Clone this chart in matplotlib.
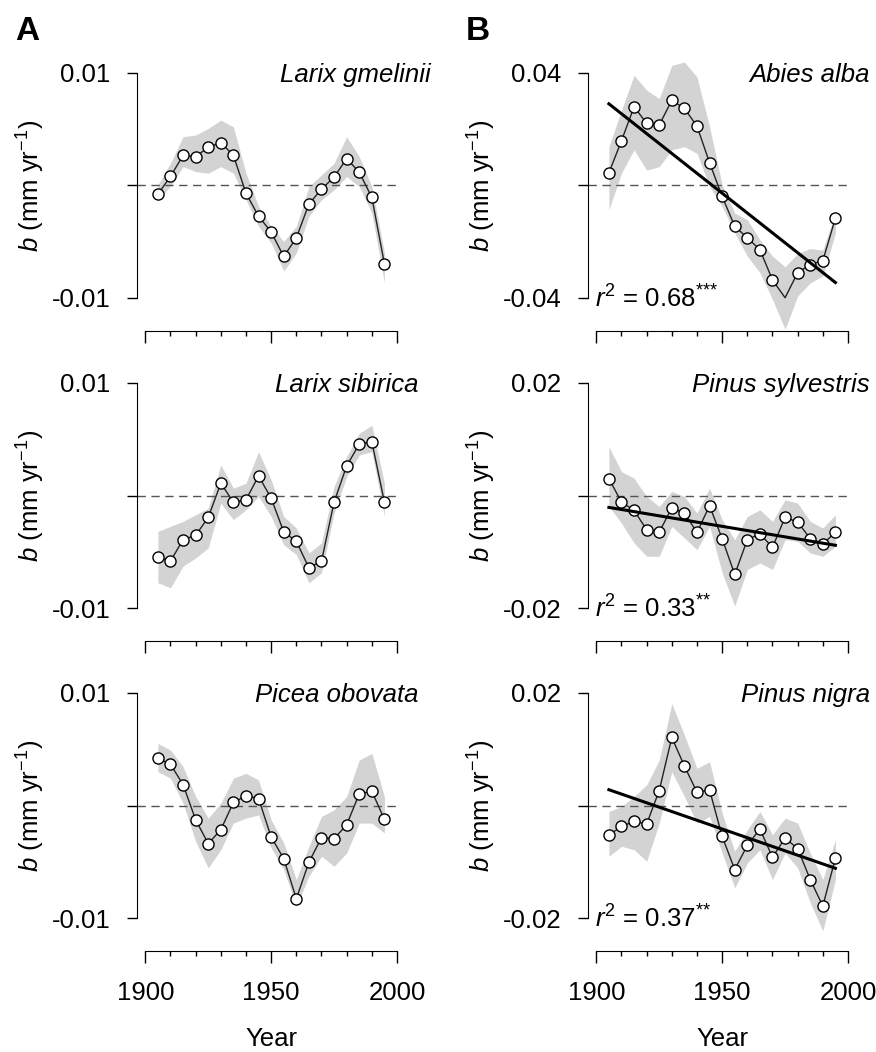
import matplotlib
matplotlib.use('Agg')
import matplotlib.pyplot as plt
import matplotlib.transforms as mtransforms
import numpy as np

plt.rcParams['font.family'] = ['Liberation Sans', 'DejaVu Sans']
plt.rcParams['mathtext.fontset'] = 'custom'
plt.rcParams['mathtext.rm'] = 'Liberation Sans'
plt.rcParams['mathtext.it'] = 'Liberation Sans:italic'
plt.rcParams['mathtext.bf'] = 'Liberation Sans:bold'

# growth trend b, in units of 0.001 mm/yr, per 5-year step
years = [1905, 1910, 1915, 1920, 1925, 1930, 1935, 1940, 1945, 1950,
         1955, 1960, 1965, 1970, 1975, 1980, 1985, 1990, 1995]

gmelinii_b = [-0.77, 0.80, 2.68, 2.57, 3.39, 3.81, 2.68, -0.68, -2.74, -4.13,
              -6.31, -4.66, -1.65, -0.32, 0.74, 2.39, 1.18, -1.06, -6.96]
gmelinii_hi = [0.06, 1.98, 4.34, 4.48, 5.07, 5.81, 5.22, 1.09, -1.86, -3.63,
               -4.96, -3.63, -0.09, 0.94, 1.98, 4.34, 2.57, -0.09, -5.99]
gmelinii_lo = [-1.27, -0.09, 1.68, 1.24, 1.09, 1.68, 1.09, -1.27, -3.63, -5.10,
               -7.61, -5.99, -2.74, -1.27, -0.38, 0.80, -0.09, -2.45, -8.64]

sibirica_b = [-5.46, -5.84, -3.92, -3.54, -1.95, 1.09, -0.59, -0.38, 1.74, -0.24,
              -3.24, -4.07, -6.43, -5.84, -0.59, 2.63, 4.57, 4.78, -0.59]
sibirica_hi = [-3.19, -2.74, -2.30, -1.71, -1.12, 2.71, 0.65, 1.09, 3.89, 1.39,
               -1.86, -2.89, -5.10, -4.22, 0.80, 3.45, 5.52, 6.25, 1.09]
sibirica_lo = [-7.76, -8.20, -6.28, -5.55, -4.66, -0.68, -2.15, -1.27, -0.09, -1.86,
               -4.37, -5.25, -7.76, -6.87, -1.56, 1.68, 3.60, 3.89, -1.86]

obovata_b = [4.19, 3.66, 1.86, -1.27, -3.39, -2.15, 0.27, 0.86, 0.62, -2.80,
             -4.72, -8.29, -5.04, -2.86, -2.95, -1.71, 1.03, 1.27, -1.24]
obovata_hi = [5.52, 4.93, 3.45, 0.80, -1.12, 0.21, 2.42, 2.86, 2.27, -1.27,
              -3.33, -6.58, -3.63, -0.97, -0.38, 0.80, 4.04, 4.63, 0.80]
obovata_lo = [3.01, 2.42, 0.21, -3.19, -5.55, -3.92, -1.56, -1.12, -0.83, -3.78,
              -5.69, -8.94, -6.28, -4.51, -5.40, -4.22, -1.56, -1.56, -2.45]

alba_b = [4.48, 15.9, 28.0, 22.1, 21.5, 30.3, 27.4, 21.1, 8.1, -3.9,
          -14.5, -18.6, -22.8, -33.6, -39.9, -31.0, -28.1, -26.7, -11.6]
alba_hi = [13.8, 26.8, 39.2, 33.9, 30.9, 42.7, 43.9, 38.6, 20.9, 0.2,
           -9.8, -12.2, -19.3, -25.1, -28.9, -24.2, -22.4, -23.0, -9.8]
alba_lo = [-8.6, 4.4, 12.7, 5.5, 6.7, 12.7, 13.8, 11.4, -0.4, -7.4,
           -16.9, -25.1, -31.0, -40.5, -51.1, -39.3, -34.6, -32.2, -16.9]

sylvestris_b = [3.01, -1.18, -2.65, -6.08, -6.49, -2.24, -3.13, -6.55, -1.83, -7.67,
                -14.04, -7.85, -6.84, -9.20, -3.89, -4.72, -7.67, -8.61, -6.55]
sylvestris_hi = [8.67, 4.25, 3.07, -0.18, -1.95, 0.71, -0.18, -3.13, 1.30, -4.31,
                 -7.85, -3.72, -2.54, -4.60, -0.77, -1.36, -4.60, -5.78, -3.42]
sylvestris_lo = [-1.95, -4.90, -8.44, -10.80, -10.80, -5.49, -7.55, -9.62, -5.49, -13.75,
                 -19.65, -13.16, -11.98, -13.16, -7.85, -8.14, -10.21, -10.80, -9.03]

nigra_b = [-5.25, -3.72, -2.83, -3.30, 2.65, 12.09, 7.02, 2.36, 2.77, -5.49,
           -11.39, -7.08, -4.19, -9.20, -5.78, -7.67, -13.16, -17.88, -9.32]
nigra_hi = [-1.06, -0.18, 1.59, 3.66, 8.08, 18.11, 12.51, 6.61, 7.79, -1.36,
            -8.14, -4.31, -1.06, -5.19, -2.24, -3.13, -8.44, -13.16, -6.08]
nigra_lo = [-9.03, -7.26, -7.85, -9.91, -3.13, 6.02, 1.59, -3.13, -1.95, -8.44,
            -14.63, -10.21, -7.85, -13.16, -8.44, -11.09, -17.29, -22.30, -13.16]

panels = [
    # (column, row, name, b, lo, hi, axis limit, r2 label, years without marker)
    (0, 0, 'Larix gmelinii', gmelinii_b, gmelinii_lo, gmelinii_hi, 0.01, None, []),
    (0, 1, 'Larix sibirica', sibirica_b, sibirica_lo, sibirica_hi, 0.01, None, []),
    (0, 2, 'Picea obovata', obovata_b, obovata_lo, obovata_hi, 0.01, None, []),
    (1, 0, 'Abies alba', alba_b, alba_lo, alba_hi, 0.04, '0.68', [1975]),
    (1, 1, 'Pinus sylvestris', sylvestris_b, sylvestris_lo, sylvestris_hi, 0.02, '0.33', []),
    (1, 2, 'Pinus nigra', nigra_b, nigra_lo, nigra_hi, 0.02, '0.37', []),
]
r2_stars = {'0.68': '***', '0.33': '**', '0.37': '**'}
name_x = {'Larix gmelinii': 2013.5}

W, H = 876, 1052
fig = plt.figure(figsize=(W / 100, H / 100), dpi=100)

fs = 18.5
x = np.array(years)

for col, row, name, b, lo, hi, lim, r2, hide in panels:
    left = [137, 588][col]
    bottom = H - 331 - 310 * row
    ax = fig.add_axes([left / W, bottom / H, 260 / W, 271 / H])
    ax.set_xlim(1896.7, 1999.3)
    ax.set_ylim(-lim * (1 + 33 / 112.5), lim * (1 + 13 / 112.5))

    b = np.array(b) * 1e-3
    ax.fill_between(x, np.array(lo) * 1e-3, np.array(hi) * 1e-3,
                    color='#d3d3d3', lw=0, zorder=1)
    ax.axhline(0, color='#555555', lw=1, dashes=(6, 4), zorder=2)
    ax.plot(x, b, color='#222222', lw=1, zorder=3)
    show = np.array([yr not in hide for yr in years])
    ax.plot(x[show], b[show], 'o', ms=8, mfc='white', mec='black', mew=1, zorder=4)

    if r2 is not None:
        coef = np.polyfit(x, b, 1)
        ends = np.array([years[0], years[-1]])
        ax.plot(ends, np.polyval(coef, ends), color='black', lw=2.2, zorder=5)
        ax.text(1899.3, -lim * (1 + 9.5 / 112.5),
                r'$\mathit{r}^{2}$ = ' + r2 + r'$^{\text{' + r2_stars[r2] + '}}$',
                ha='left', va='baseline', fontsize=fs)

    ax.text(name_x.get(name, 2008.6), lim * (1 - 9 / 112.5), name,
            ha='right', va='baseline', style='italic', fontsize=fs)

    for s in ['top', 'right']:
        ax.spines[s].set_visible(False)
    ax.spines['left'].set_bounds(-lim, lim)
    ax.spines['bottom'].set_bounds(1900, 2000)

    ax.set_yticks([-lim, 0, lim])
    ax.set_yticklabels(['%g' % -lim, '', '%g' % lim])
    ax.tick_params(axis='y', length=7, width=1, pad=12, labelsize=fs)

    ax.set_xticks([1900, 1950, 2000])
    ax.set_xticks([1910, 1920, 1930, 1940, 1960, 1970, 1980, 1990], minor=True)
    ax.tick_params(axis='x', which='major', length=8.3, width=1, pad=13,
                   labelsize=fs, labelbottom=(row == 2))
    ax.tick_params(axis='x', which='minor', length=3.8, width=1)

    ax.text(-0.408, (lim * (1 + 33 / 112.5)) / (lim * (2 + 46 / 112.5)),
            r'$\mathit{b}$ (mm yr$^{-1}$)', rotation=90, ha='center',
            va='center', fontsize=fs, transform=ax.transAxes)

    if row == 2:
        trans = mtransforms.blended_transform_factory(ax.transData, ax.transAxes)
        ax.text(1950, -88 / 271, 'Year', ha='center', va='center',
                fontsize=fs, transform=trans)

fig.text(15 / W, 1 - 32 / H, 'A', fontsize=24, fontweight='bold', ha='left', va='center')
fig.text(466 / W, 1 - 32 / H, 'B', fontsize=24, fontweight='bold', ha='left', va='center')

fig.savefig('out.png', dpi=100)
